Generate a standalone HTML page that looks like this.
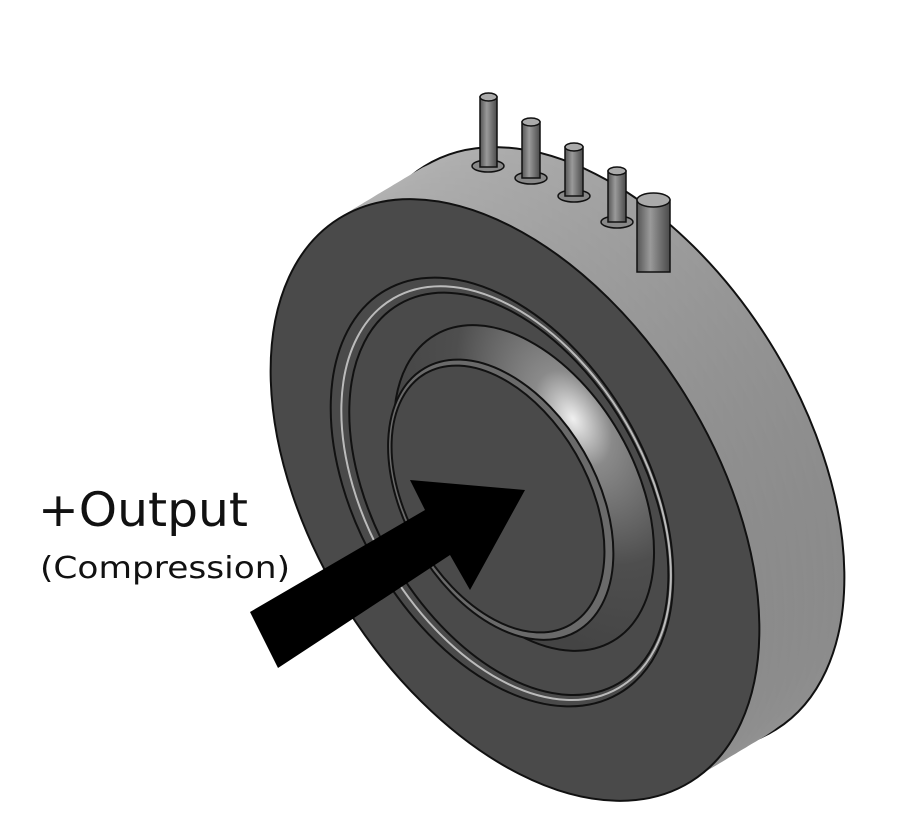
<!DOCTYPE html>
<html><head><style>
html,body{margin:0;padding:0;background:#fff;overflow:hidden;width:902px;height:825px;}
svg{display:block;}
</style></head><body>
<svg width="902" height="825" viewBox="0 0 902 825" xmlns="http://www.w3.org/2000/svg">
<defs>
<linearGradient id="side" x1="0" y1="0" x2="1" y2="1">
<stop offset="0" stop-color="#c0c0c0"/><stop offset="0.5" stop-color="#a4a4a4"/><stop offset="1" stop-color="#808080"/>
</linearGradient>
<radialGradient id="dome" cx="0.85" cy="0.4" r="0.75">
<stop offset="0" stop-color="#f0f0f0"/><stop offset="0.2" stop-color="#8a8a8a"/><stop offset="0.6" stop-color="#4e4e4e"/><stop offset="1" stop-color="#444"/>
</radialGradient>
<linearGradient id="pin" x1="0" y1="0" x2="1" y2="0">
<stop offset="0" stop-color="#555"/><stop offset="0.4" stop-color="#9a9a9a"/><stop offset="1" stop-color="#4a4a4a"/>
</linearGradient>
<ellipse id="e" cx="0" cy="0" rx="200" ry="332"/>
</defs>
<g fill="url(#side)">
<g transform="translate(600,448) rotate(-32)"><use href="#e" stroke="#111" stroke-width="2"/></g>
<g transform="translate(590,454) rotate(-32)"><use href="#e"/></g>
<g transform="translate(580,460) rotate(-32)"><use href="#e"/></g>
<g transform="translate(570,466) rotate(-32)"><use href="#e"/></g>
<g transform="translate(560,472) rotate(-32)"><use href="#e"/></g>
<g transform="translate(550,478) rotate(-32)"><use href="#e"/></g>
<g transform="translate(540,484) rotate(-32)"><use href="#e"/></g>
<g transform="translate(530,490) rotate(-32)"><use href="#e"/></g>
<g transform="translate(522,495) rotate(-32)"><use href="#e"/></g>
</g>
<g stroke="#111" stroke-width="1.5">
<ellipse cx="488" cy="166" rx="16" ry="6" fill="#888"/>
<rect x="480" y="97" width="17" height="70" fill="url(#pin)"/><ellipse cx="488.5" cy="97" rx="8.5" ry="4" fill="#aaa"/>
<ellipse cx="531" cy="178" rx="16" ry="6" fill="#888"/>
<rect x="522" y="122" width="18" height="56" fill="url(#pin)"/><ellipse cx="531" cy="122" rx="9" ry="4" fill="#aaa"/>
<ellipse cx="574" cy="196" rx="16" ry="6" fill="#888"/>
<rect x="565" y="147" width="18" height="49" fill="url(#pin)"/><ellipse cx="574" cy="147" rx="9" ry="4" fill="#aaa"/>
<ellipse cx="617" cy="222" rx="16" ry="6" fill="#888"/>
<rect x="608" y="171" width="18" height="51" fill="url(#pin)"/><ellipse cx="617" cy="171" rx="9" ry="4" fill="#aaa"/>
<rect x="637" y="200" width="33" height="72" fill="url(#pin)"/><ellipse cx="653.5" cy="200" rx="16.5" ry="7" fill="#aaa"/>
</g>
<g transform="translate(515,500) rotate(-32)">
<ellipse cx="0" cy="0" rx="200" ry="332" fill="#4a4a4a" stroke="#111" stroke-width="2"/>
</g>
<g transform="translate(502,492) rotate(-30)">
<ellipse rx="145" ry="233" fill="#4a4a4a" stroke="#111" stroke-width="2"/>
<ellipse cx="3" cy="3" rx="139" ry="225" fill="none" stroke="#bbb" stroke-width="2"/>
<ellipse cx="5" cy="5" rx="134" ry="219" fill="none" stroke="#111" stroke-width="2"/>
</g>
<g transform="translate(524,488) rotate(-30)">
<ellipse rx="110" ry="177" fill="url(#dome)" stroke="#111" stroke-width="2"/>
</g>
<g transform="translate(498,499) rotate(-30)">
<ellipse cx="2" cy="2" rx="96" ry="152" fill="#6a6a6a" stroke="#111" stroke-width="2"/>
<ellipse rx="90" ry="145" fill="#4a4a4a" stroke="#111" stroke-width="2"/>
</g>
<polygon points="250,612 425,510 410,480 525,490 470,590 450,555 278,668" fill="#000"/>
<text x="38" y="526" font-family="'DejaVu Sans',sans-serif" font-size="47" textLength="210" lengthAdjust="spacingAndGlyphs" fill="#111">+Output</text>
<text x="40" y="578" font-family="'DejaVu Sans',sans-serif" font-size="30" textLength="250" lengthAdjust="spacingAndGlyphs" fill="#111">(Compression)</text>
</svg>
</body></html>
